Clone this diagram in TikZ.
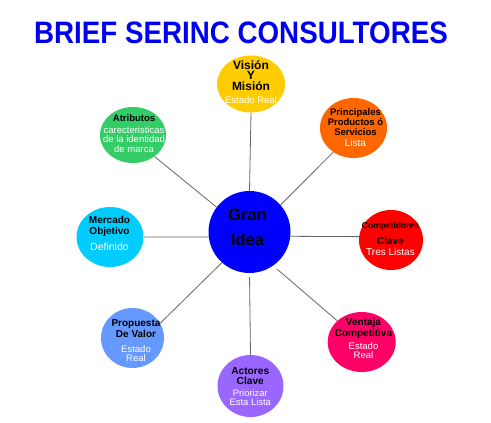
\documentclass[tikz,border=0pt]{standalone}
\usepackage{fontspec}
\setmainfont{Liberation Sans}
\usetikzlibrary{shapes.geometric}
\definecolor{cTitle}{HTML}{0000F0}
\definecolor{cVis}{HTML}{FFCC00}
\definecolor{cPri}{HTML}{FF6600}
\definecolor{cAtr}{HTML}{33CC66}
\definecolor{cMer}{HTML}{00CCFF}
\definecolor{cCom}{HTML}{FF0000}
\definecolor{cGran}{HTML}{0000FF}
\definecolor{cVen}{HTML}{FF0066}
\definecolor{cPro}{HTML}{6699FF}
\definecolor{cAct}{HTML}{9966FF}
\definecolor{cLine}{HTML}{666666}
\newcommand\hb[2]{{\fontsize{#1}{#1}\selectfont\bfseries #2}}
\newcommand\wh[2]{{\color{white}\fontsize{#1}{#1}\selectfont #2}}
\begin{document}
\begin{tikzpicture}[x=1pt,y=-1pt,
  bub/.style={ellipse, inner sep=0pt, draw=none},
  lbl/.style={inner sep=0pt, align=center, anchor=base},
  conn/.style={draw=cLine, line width=0.8pt}]
\path[use as bounding box] (0,0) rectangle (491,423);

% title
\node[inner sep=0pt, anchor=base, text=cTitle] (title) at (241,43.3)
  {\scalebox{0.895}[1]{\fontsize{31}{31}\selectfont\bfseries BRIEF SERINC CONSULTORES}};

% bubbles
\node[bub, fill=cVis, minimum width=68pt, minimum height=57pt] (vis) at (251,84) {};
\node[bub, fill=cPri, minimum width=67pt, minimum height=60pt] (pri) at (353.5,128) {};
\node[bub, fill=cAtr, minimum width=66pt, minimum height=56pt] (atr) at (133,135) {};
\node[bub, fill=cMer, minimum width=67pt, minimum height=60pt] (mer) at (110,237) {};
\node[bub, fill=cCom, minimum width=64pt, minimum height=60pt] (com) at (391,240) {};
\node[circle, inner sep=0pt, fill=cGran, minimum size=82pt] (g) at (249.5,232) {};
\node[bub, fill=cVen, minimum width=68pt, minimum height=60pt] (ven) at (361.7,342) {};
\node[bub, fill=cPro, minimum width=63pt, minimum height=60pt] (pro) at (132.5,338) {};
\node[bub, fill=cAct, minimum width=66pt, minimum height=62pt] (act) at (250.5,386) {};

% connectors
\draw[conn] (g.90) -- (vis.-90);
\draw[conn] (g.143.3) -- (atr.-45);
\draw[conn] (g.41.6) -- (pri.230.7);
\draw[conn] (g.187) -- (mer.0);
\draw[conn] (g.-6.7) -- (com.174.5);
\draw[conn] (g.228.2) -- (pro.28);
\draw[conn, shorten <=4pt] (g.-90) -- (act.90);
\draw[conn, shorten <=5pt] (g.-55.8) -- (ven.139.4);

% labels (anchored at the baseline of their last line)
\node[lbl, font=\fontsize{9}{10.5}\selectfont] (visT) at (251,103)
  {\hb{12}{Visión}\\\hb{12}{Y}\\\hb{12}{Misión}\\[2.5pt]\wh{9.5}{Estado Real}};
\node[lbl, font=\fontsize{9}{10.5}\selectfont] (priT) at (355.5,146)
  {\hb{9.5}{Principales}\\\hb{9.5}{Productos ó}\\\hb{9.5}{Servicios}\\[-0.5pt]\wh{10}{Lista}};
\node[lbl, font=\fontsize{9}{9.5}\selectfont] (atrT) at (134,152)
  {\hb{9.5}{Atributos}\\[2.5pt]\wh{9.5}{carecteristicas}\\\wh{9.5}{de la identidad}\\\wh{9.5}{de marca}};
\node[lbl, font=\fontsize{9}{11}\selectfont] (merT) at (109.5,250)
  {\hb{10}{Mercado}\\\hb{10}{Objetivo}\\[5pt]\wh{10.5}{Definido}};
\node[lbl, font=\fontsize{9}{11}\selectfont] (comT) at (390.5,255)
  {\hb{8.5}{Competidores}\\[5pt]\hb{10}{Clave}\\\wh{10}{Tres Listas}};
\node[lbl, font=\fontsize{16.5}{25}\selectfont] (gT) at (247.5,245)
  {\hb{16.5}{Gran}\\\hb{16.5}{Idea}};
\node[lbl, font=\fontsize{9}{10.5}\selectfont] (venT) at (363.5,358)
  {\hb{10}{Ventaja}\\\hb{10}{Competitiva}\\[2.5pt]\wh{9.5}{Estado}\\[-1.5pt]\wh{9.5}{Real}};
\node[lbl, font=\fontsize{9}{11}\selectfont] (proT) at (136,361)
  {\hb{10}{Propuesta}\\\hb{10}{De Valor}\\[4pt]\wh{9.5}{Estado}\\[-2pt]\wh{9.5}{Real}};
\node[lbl, font=\fontsize{9}{10}\selectfont] (actT) at (250.3,405)
  {\hb{10.2}{Actores}\\\hb{10.2}{Clave}\\[2pt]\wh{9.4}{Priorizar}\\[-1pt]\wh{9.4}{Esta Lista}};
\end{tikzpicture}
\end{document}
